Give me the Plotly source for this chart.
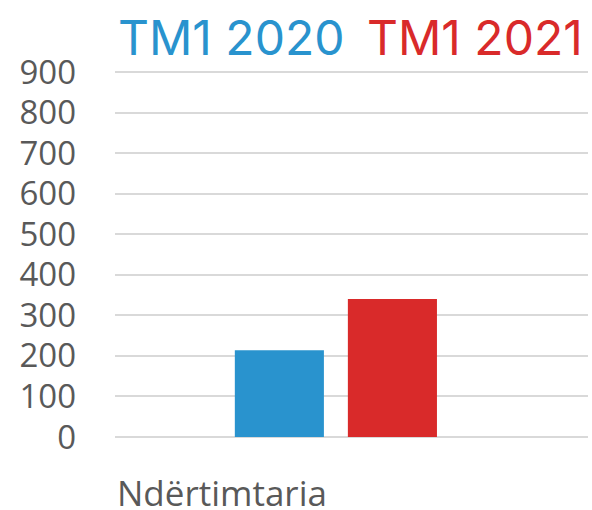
import plotly.graph_objects as go

categories = ["Ndërtimtaria"]
series_names = ["TM1 2020", "TM1 2021"]
values_2020 = [214]
values_2021 = [340]
colors = ["#2993CE", "#D92A2A"]
y_ticks = [0, 100, 200, 300, 400, 500, 600, 700, 800, 900]

fig = go.Figure()
for name, vals, col in zip(series_names, [values_2020, values_2021], colors):
    fig.add_trace(go.Bar(x=categories, y=vals, name=name, marker_color=col,
                         marker_line_width=0, showlegend=False))

W, H = 592, 510
L, R, T, B = 115, 4, 70, 71
pw = W - L - R
ph = H - T - B
y0_px = H - B  # pixel of bottom of plot area

fig.update_layout(
    width=W, height=H,
    margin=dict(l=L, r=R, t=T, b=B),
    paper_bgcolor="white", plot_bgcolor="white",
    barmode="group", bargap=0.522, bargroupgap=0.212,
    font=dict(family="Open Sans", color="#595959"),
)
fig.update_xaxes(range=[-0.467, 0.533], showticklabels=False, showgrid=False,
                 zeroline=False, showline=False)
fig.update_yaxes(range=[-5, 905], tickvals=y_ticks, ticktext=[str(v) for v in y_ticks],
                 showgrid=True, gridcolor="#D9D9D9", gridwidth=1.5,
                 zeroline=False, showline=False,
                 tickfont=dict(family="Open Sans", size=33, color="#595959"),
                 ticklabelstandoff=38)

# legend-like titles
fig.add_annotation(text=series_names[0], xref="paper", yref="paper",
                   x=(116 - L) / pw, y=(y0_px - 38) / ph,
                   xanchor="left", yanchor="middle", showarrow=False,
                   font=dict(family="Inter", size=48, color=colors[0]))
fig.add_annotation(text=series_names[1], xref="paper", yref="paper",
                   x=(585 - L) / pw, y=(y0_px - 38) / ph,
                   xanchor="right", yanchor="middle", showarrow=False,
                   font=dict(family="Inter", size=48, color=colors[1]))

# category label, left aligned under the plot
fig.add_annotation(text=categories[0], xref="paper", yref="paper",
                   x=0, y=(y0_px - 492) / ph, xanchor="left", yanchor="middle",
                   showarrow=False, font=dict(family="Open Sans", size=35, color="#595959"))

fig.write_html("out.html", post_script="document.body.style.margin='0';",
               config={"displayModeBar": False})
